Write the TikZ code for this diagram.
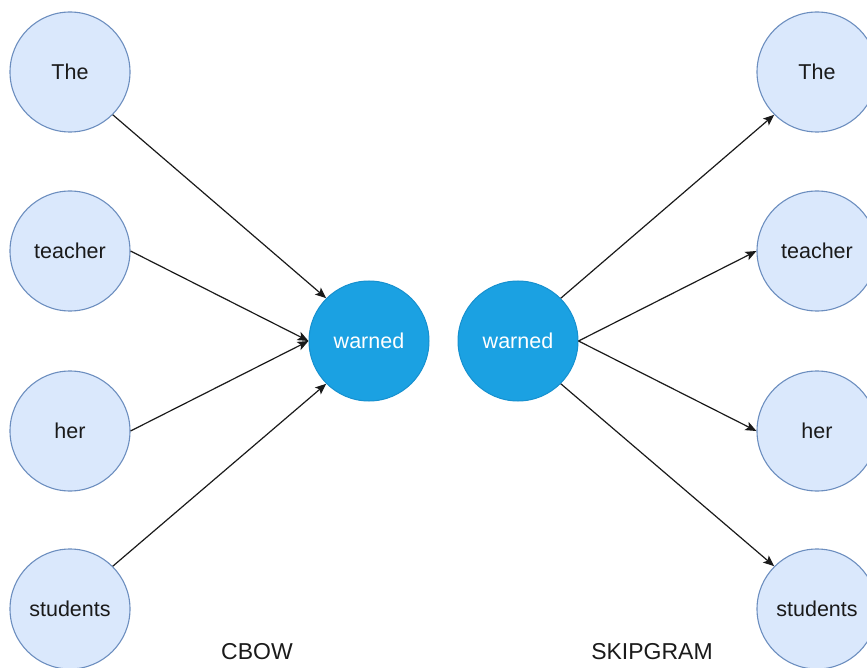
\documentclass[tikz,border=0pt]{standalone}
\usepackage{fontspec}
\setmainfont{Liberation Sans}
\usetikzlibrary{arrows.meta}
\definecolor{wordfill}{HTML}{DAE8FC}
\definecolor{wordline}{HTML}{6C8EBF}
\definecolor{hubfill}{HTML}{1BA1E2}
\definecolor{hubline}{HTML}{1690CF}
\definecolor{ink}{HTML}{1A1A1A}
\tikzset{
  word/.style={circle, minimum size=120pt, inner sep=0pt, fill=wordfill,
    draw=wordline, line width=1.1pt, text=ink,
    font=\fontsize{21.5}{24}\selectfont},
  hub/.style={circle, minimum size=120pt, inner sep=0pt, fill=hubfill,
    draw=hubline, line width=1pt, text=white,
    font=\fontsize{21.5}{24}\selectfont},
  caption/.style={text=ink, inner sep=0pt, font=\fontsize{23}{26}\selectfont},
  link/.style={draw=ink, line width=1.2pt,
    -{Stealth[length=11pt, width=9pt, inset=2.5pt]}}
}
\begin{document}
\begin{tikzpicture}[x=1pt, y=-1pt]
  \useasboundingbox (0,0) rectangle (867,668);
  \clip (0,0) rectangle (867,668);

  % CBOW: context words feed the centre word
  \node[word] (lthe) at (70,72) {The};
  \node[word] (lteacher) at (70,251) {teacher};
  \node[word] (lher) at (70,431) {her};
  \node[word] (lstudents) at (70,609) {students};
  \node[hub] (lwarned) at (369,341) {warned};

  % Skip-gram: the centre word predicts its context
  \node[hub] (rwarned) at (518,341) {warned};
  \node[word] (rthe) at (817,72) {The};
  \node[word] (rteacher) at (817,251) {teacher};
  \node[word] (rher) at (817,431) {her};
  \node[word] (rstudents) at (817,609) {students};

  \draw[link] (lthe.south east) -- (lwarned.north west);
  \draw[link] (lteacher.east) -- (lwarned.west);
  \draw[link] (lher.east) -- (lwarned.west);
  \draw[link] (lstudents.north east) -- (lwarned.south west);

  \draw[link] (rwarned.north east) -- (rthe.south west);
  \draw[link] (rwarned.east) -- (rteacher.west);
  \draw[link] (rwarned.east) -- (rher.west);
  \draw[link] (rwarned.south east) -- (rstudents.north west);

  \node[caption] (cbow) at (257,652) {CBOW};
  \node[caption] (skip) at (652,652) {SKIPGRAM};
\end{tikzpicture}
\end{document}
